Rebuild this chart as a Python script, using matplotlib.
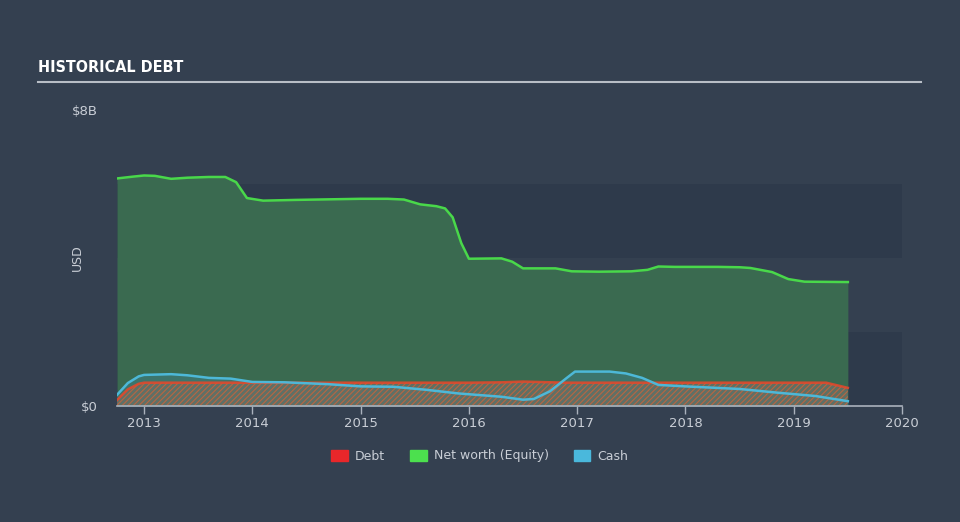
import matplotlib.pyplot as plt
import numpy as np

# values in billions USD, x in decimal years
equity_x = [2012.75, 2012.9, 2013.0, 2013.1, 2013.25, 2013.4, 2013.6, 2013.75, 2013.85, 2013.95,
            2014.1, 2014.4, 2014.8, 2015.0, 2015.25, 2015.4, 2015.55, 2015.7, 2015.78, 2015.85,
            2015.93, 2016.0, 2016.3, 2016.4, 2016.5, 2016.8, 2016.95, 2017.2, 2017.5, 2017.65,
            2017.75, 2017.9, 2018.3, 2018.5, 2018.6, 2018.8, 2018.95, 2019.1, 2019.5]
equity_y = [6.15, 6.20, 6.23, 6.22, 6.14, 6.17, 6.19, 6.19, 6.05, 5.62,
            5.55, 5.57, 5.59, 5.60, 5.60, 5.58, 5.45, 5.40, 5.34, 5.10,
            4.40, 3.98, 3.99, 3.90, 3.72, 3.72, 3.64, 3.63, 3.64, 3.68,
            3.77, 3.76, 3.76, 3.75, 3.73, 3.62, 3.43, 3.36, 3.35]

cash_x = [2012.75, 2012.85, 2012.95, 2013.0, 2013.25, 2013.4, 2013.6, 2013.8, 2014.0, 2014.3,
          2014.7, 2015.0, 2015.3, 2015.6, 2015.9, 2016.3, 2016.5, 2016.6, 2016.75, 2016.9,
          2016.98, 2017.3, 2017.45, 2017.6, 2017.75, 2018.0, 2018.5, 2018.85, 2019.2, 2019.5]
cash_y = [0.30, 0.62, 0.80, 0.84, 0.86, 0.83, 0.76, 0.74, 0.65, 0.64,
          0.59, 0.53, 0.52, 0.44, 0.34, 0.25, 0.17, 0.19, 0.40, 0.75,
          0.93, 0.93, 0.88, 0.76, 0.57, 0.53, 0.46, 0.36, 0.27, 0.13]

debt_x = [2012.75, 2012.85, 2012.95, 2013.0, 2014.0, 2015.0, 2016.0, 2016.3, 2016.5, 2016.9,
          2017.5, 2018.0, 2018.5, 2019.0, 2019.3, 2019.5]
debt_y = [0.16, 0.45, 0.60, 0.63, 0.63, 0.63, 0.63, 0.64, 0.66, 0.63,
          0.63, 0.63, 0.63, 0.63, 0.63, 0.49]

year_ticks = [2013, 2014, 2015, 2016, 2017, 2018, 2019, 2020]

bg = '#344050'
band = '#2e3a4b'
green = '#49d84a'
blue = '#4db8d8'
red = '#e8472a'
txt = '#c9ced6'

plt.rcParams['hatch.linewidth'] = 0.8

fig = plt.figure(figsize=(9.6, 5.22), dpi=100, facecolor=bg)
ax = fig.add_axes([117/960, 1 - 406/522, 785/960, 296/522])
ax.set_facecolor(bg)

# darker background bands
ax.axhspan(0, 2, color=band, zorder=0, lw=0)
ax.axhspan(4, 6, color=band, zorder=0, lw=0)

ax.fill_between(equity_x, equity_y, 0, color='#3a6a50', lw=0, zorder=1)
ax.plot(equity_x, equity_y, color=green, lw=1.8, zorder=4)

ax.fill_between(cash_x, cash_y, 0, color='#3e7a78', alpha=0.7, lw=0, zorder=2)
ax.fill_between(debt_x, debt_y, 0, facecolor='#667066', edgecolor='#c8643c',
                hatch='//////', lw=0, alpha=0.85, zorder=2)
ax.plot(debt_x, debt_y, color=red, lw=1.8, alpha=0.85, zorder=3)
ax.plot(cash_x, cash_y, color=blue, lw=1.8, zorder=5)

ax.set_xlim(2012.75, 2020.0)
ax.set_ylim(0, 8)
ax.set_xticks(year_ticks)
ax.set_xticklabels([str(y) for y in year_ticks])
ax.set_yticks([0, 8])
ax.set_yticklabels(['$0', '$8B'])
ax.tick_params(axis='x', colors='#aab2bd', labelcolor=txt, length=6, width=1, labelsize=9.5, pad=2)
ax.tick_params(axis='y', length=0, labelcolor=txt, labelsize=9.5, pad=14)
for s in ['top', 'right', 'left']:
    ax.spines[s].set_visible(False)
ax.spines['bottom'].set_color('#aab2bd')
ax.spines['bottom'].set_linewidth(1.2)
ax.set_ylabel('USD', color=txt, fontsize=9)
ax.yaxis.set_label_coords(-0.042, 0.5)

# title and rule
fig.text(38/960, 1 - 68/522, 'HISTORICAL DEBT', color='white', fontsize=11.5,
         fontweight='bold', family=['Liberation Sans Narrow', 'DejaVu Sans'],
         fontstretch='condensed', va='center')
fig.add_artist(plt.Line2D([38/960, 921/960], [1 - 82/522, 1 - 82/522],
                          color='#b8bec6', lw=1.5))

# legend
handles = [plt.Rectangle((0, 0), 1, 1, color=c) for c in ['#e8272a', '#4ce04e', '#4ab8dc']]
fig.legend(handles, ['Debt', 'Net worth (Equity)', 'Cash'], loc='center',
           bbox_to_anchor=(0.5, 1 - 456/522), ncol=3, frameon=False,
           labelcolor=txt, fontsize=9, handlelength=1.3, handleheight=1.0,
           columnspacing=2.0, handletextpad=0.6)

fig.savefig('out.png', dpi=100, facecolor=bg)
